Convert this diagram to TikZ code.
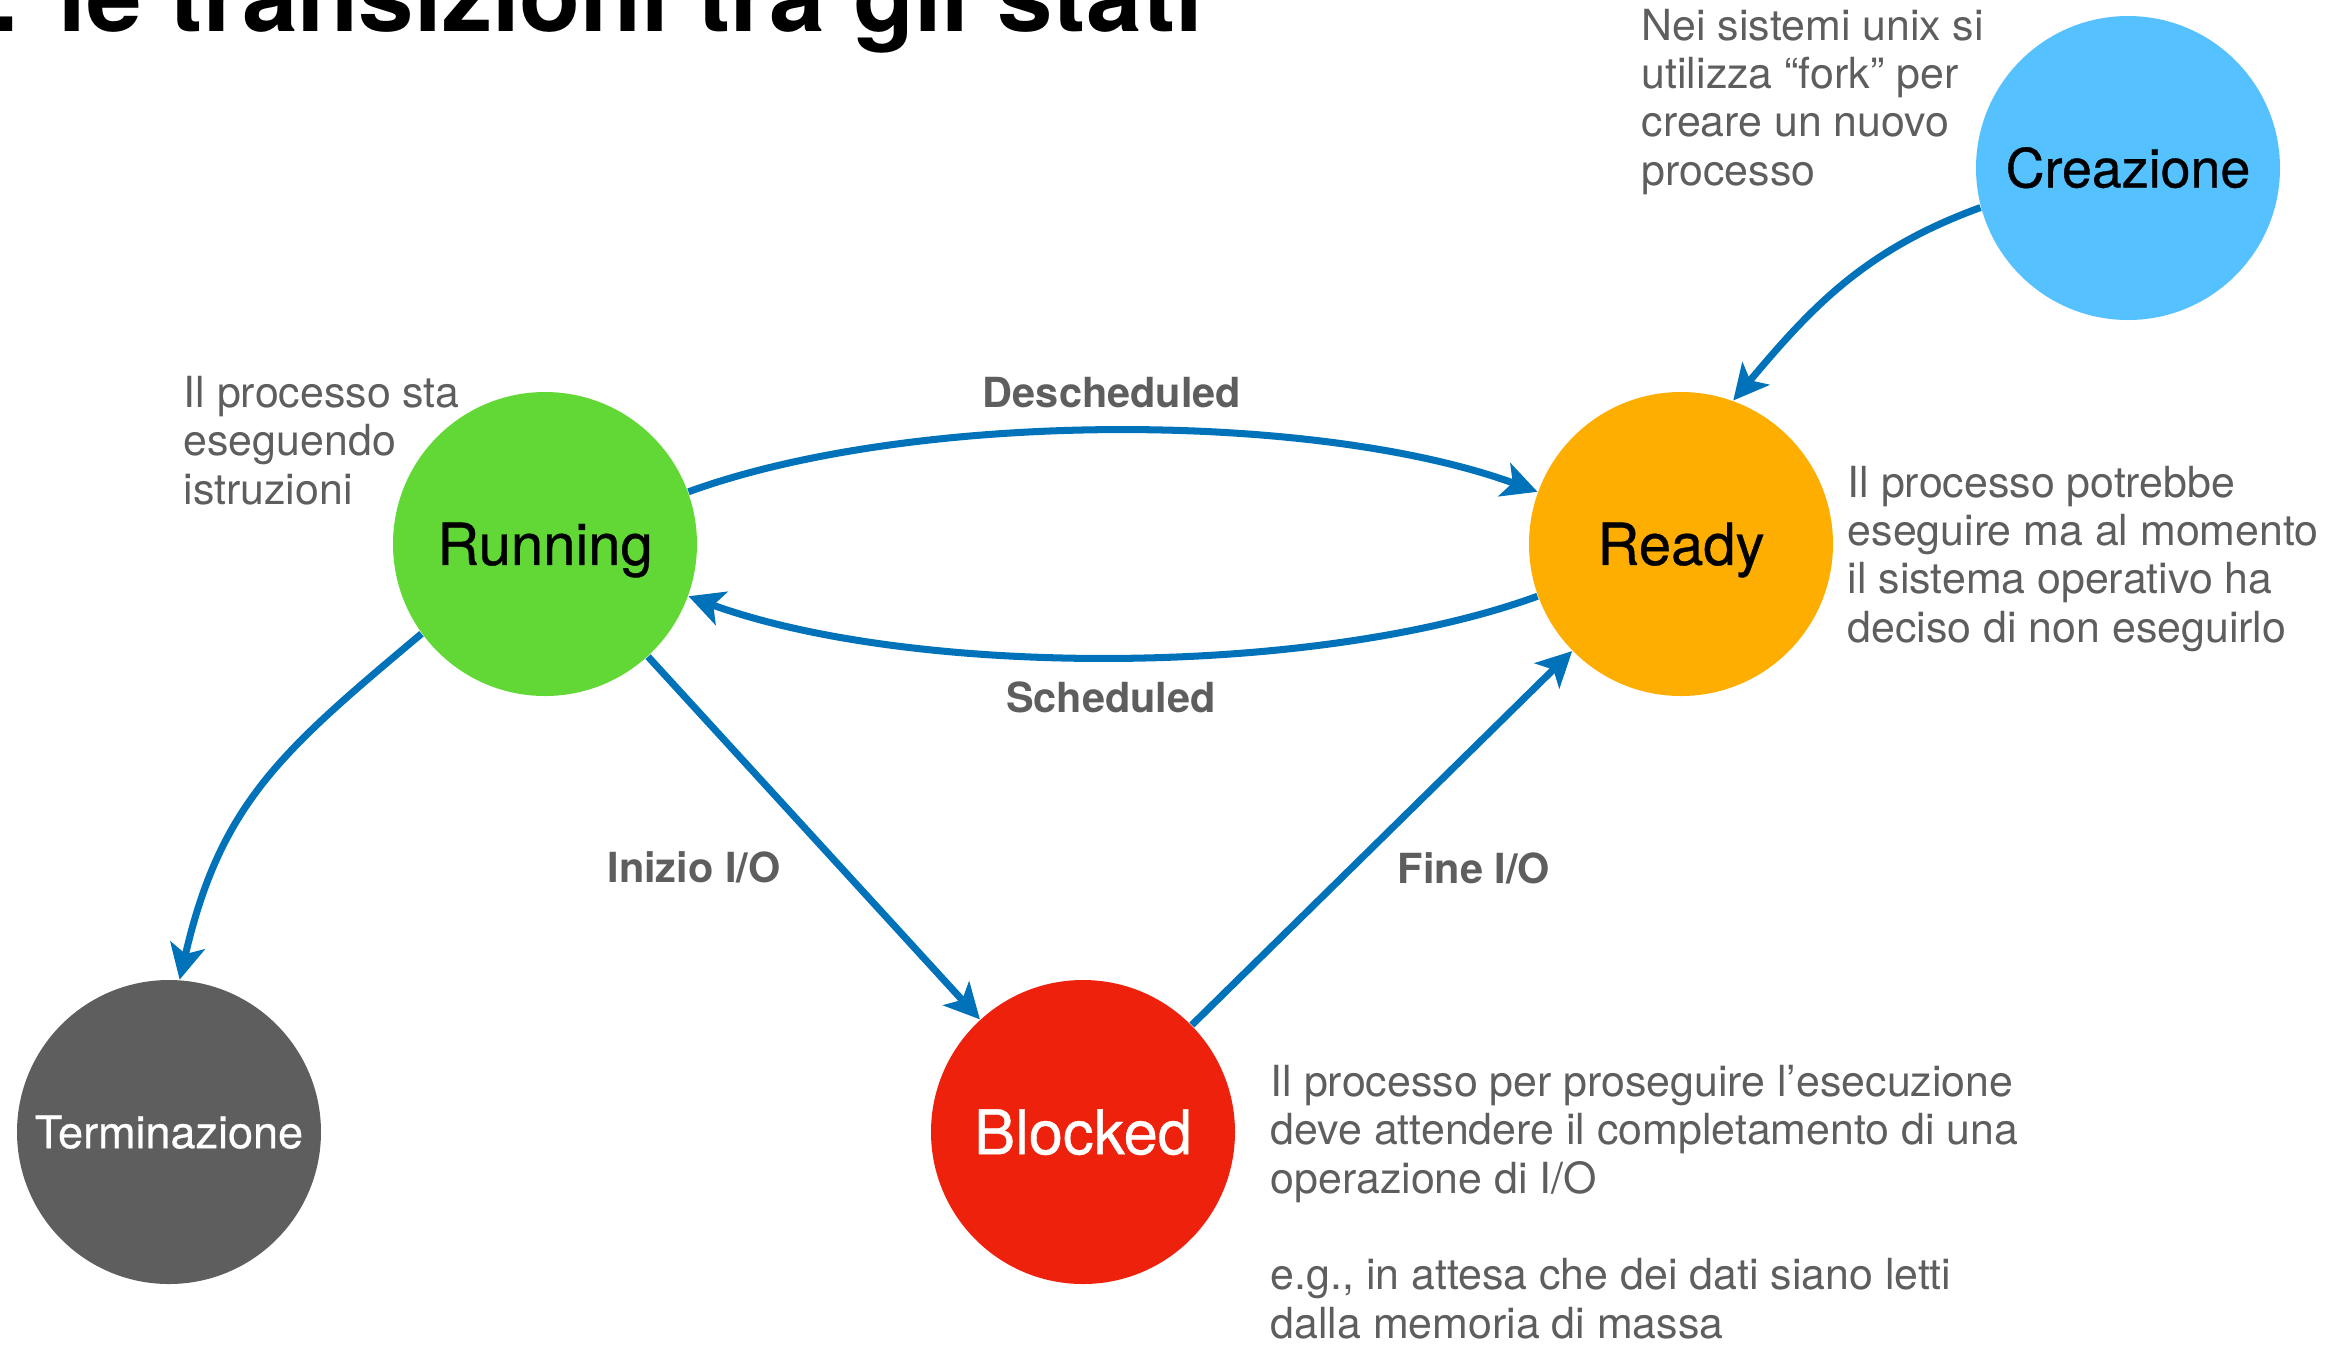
\documentclass[tikz,border=0pt]{standalone}
\usepackage{fontspec}
\setmainfont{TeX Gyre Heros}
\newfontfamily\statefont{TeX Gyre Heros}[BoldFont={TeX Gyre Heros}, BoldFeatures={FakeBold=0.6}]
\usetikzlibrary{arrows.meta}

\definecolor{arrowblue}{RGB}{0,114,186}
\definecolor{rungreen}{RGB}{97,216,54}
\definecolor{readyorange}{RGB}{254,174,0}
\definecolor{creablue}{RGB}{86,193,255}
\definecolor{blockred}{RGB}{238,34,12}
\definecolor{termgray}{RGB}{94,94,94}
\definecolor{notegray}{RGB}{94,94,94}

\begin{document}
\begin{tikzpicture}[
	state/.style={circle, minimum size=3.04cm, inner sep=0pt, text depth=0pt},
	trans/.style={line width=2pt, draw=arrowblue, -{Stealth[length=10pt,width=10pt,inset=2.5pt]}},
	note/.style={anchor=base west, inner sep=0pt, align=left, text=notegray, font=\fontsize{12.2}{13.75}\selectfont},
	lbl/.style={anchor=base, inner sep=0pt, text=notegray, font=\fontsize{11.8}{14}\selectfont\bfseries}
]
	\useasboundingbox (0,0) rectangle (23.49,-13.44);

	% title, only its lower half is on the page
	\node[anchor=base west, inner sep=0pt, font=\fontsize{28.4}{30}\selectfont\bfseries] (title) at (-0.12,-0.31) {: le transizioni tra gli stati};

	% states (text height = cap height, so the caps sit in the middle)
	\node[state, fill=rungreen, text height=11.9pt, font=\statefont\bfseries\fontsize{16.5}{18}\selectfont] (running) at (5.45,-5.44) {Running};
	\node[state, fill=readyorange, text height=11.9pt, font=\statefont\bfseries\fontsize{16.5}{18}\selectfont] (ready) at (16.81,-5.44) {Ready};
	\node[state, fill=creablue, text height=11pt, font=\statefont\bfseries\fontsize{15.3}{18}\selectfont] (crea) at (21.28,-1.68) {Creazione};
	\node[state, fill=termgray, text=white, text height=9.2pt, font=\statefont\bfseries\fontsize{12.8}{15}\selectfont] (term) at (1.69,-11.32) {Terminazione};
	\node[state, fill=blockred, text=white, text height=12.6pt, font=\statefont\bfseries\fontsize{17.5}{20}\selectfont] (blocked) at (10.83,-11.32) {Blocked};

	% transitions
	\draw[trans] (running) to[out=20, in=160, looseness=0.72] (ready);
	\draw[trans] (ready) to[out=-160, in=-20, looseness=0.72] (running);
	\draw[trans] (crea.195) to[out=200, in=50] (ready.70);
	\draw[trans] (running.216) to[out=220, in=77, looseness=1.1] (term.86);
	\draw[trans] (running) -- (blocked);
	\draw[trans] (blocked) -- (ready);

	\node[lbl] (descl) at (11.12,-4.07) {Descheduled};
	\node[lbl] (schedl) at (11.11,-7.12) {Scheduled};
	\node[lbl] (iniziol) at (6.94,-8.82) {Inizio I/O};
	\node[lbl] (finel) at (14.74,-8.83) {Fine I/O};

	% notes, placed by the baseline of their last line
	\node[note] (runnote) at (1.83,-5.04) {Il processo sta\\eseguendo\\istruzioni};
	\node[note] (creanote) at (16.41,-1.85) {Nei sistemi unix si\\utilizza “fork” per\\creare un nuovo\\processo};
	\node[note] (readynote) at (18.47,-6.42) {Il processo potrebbe\\eseguire ma al momento\\il sistema operativo ha\\deciso di non eseguirlo};
	\node[note] (blocknote) at (12.70,-13.38) {Il processo per proseguire l’esecuzione\\deve attendere il completamento di una\\operazione di I/O\\[13.75pt]e.g., in attesa che dei dati siano letti\\dalla memoria di massa};
\end{tikzpicture}
\end{document}
